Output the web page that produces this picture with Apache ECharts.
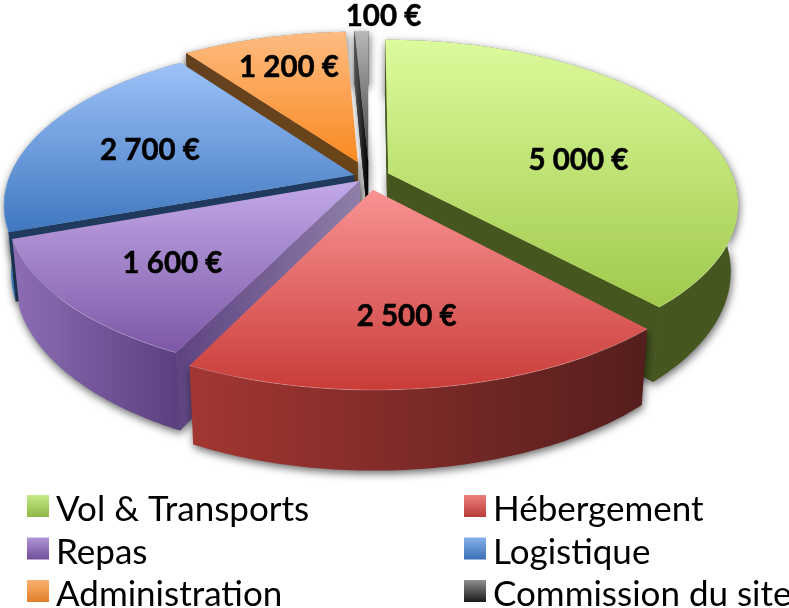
<!DOCTYPE html>
<html><head><meta charset="utf-8">
<style>html,body{margin:0;padding:0;background:#fff}#c{width:789px;height:608px}</style>
<script src="https://cdn.jsdelivr.net/npm/echarts@6/dist/echarts.min.js"></script>
</head><body><div id="c"></div>
<script>
// --- data ---
const categories = ['Vol & Transports','Hébergement','Repas','Logistique','Administration','Commission du site'];
const values = [5000,2500,1600,2700,1200,100];
// --- style / layout ---
const faceColors = [['#dcfb9c','#a0c94c'],['#f99393','#c93c38'],['#c2a9e8','#7d58a6'],['#9dc2f9','#3f77bf'],['#fdbb80','#fa8a22'],['#b8b8b8','#404040']];
const rimColors  = [['#46561f','#46561f'],['#a33632','#541e1d'],['#8d6eb5','#5a3f7e'],['#3f83c8','#1f3a5c'],['#6b4420','#6b4420'],['#111111','#111111']];
const cutColors  = [['#46561f','#46561f'],['#541e1d','#541e1d'],['#5d4380','#8f7ea8'],['#1f3a5c','#1f3a5c'],['#64401f','#6b4518'],['#555555','#000000']];
const legendColors = [['#c6ea86','#8fb548'],['#ee7f7c','#b83c38'],['#b195d8','#6f4f98'],['#86b0ea','#3a70b4'],['#fbb070','#e0802a'],['#909090','#1a1a1a']];
const explode = [0.06,0.08,0.035,0.045,0.1,0.1];
const labelAngle = [81,173,226.5,285.3,341.7,2.7];
const labelRadius = [0.57,0.68,0.68,0.635,0.74,1.146];
const drawOrder = [5,4,0,3,2,1];
const CX=369, CY=177, A=345, B=159, K=0.18, DEPTH=65, DEPTH_X=0.98;
const FF='Lato, Carlito, sans-serif';

const total = values.reduce((a,b)=>a+b,0);
const starts = []; let acc=0; values.forEach(v=>{starts.push(acc/total*2*Math.PI); acc+=v;});
const LG=(c,h)=>new echarts.graphic.LinearGradient(0,0,h?1:0,h?0:1,[{offset:0,color:c[0]},{offset:1,color:c[1]}]);
function pt(i,theta,r,depth){
  const mid=starts[i]+values[i]/total*Math.PI, e=explode[i];
  const U=Math.sin(mid)*e+r*Math.sin(theta), V=-Math.cos(mid)*e-r*Math.cos(theta);
  const s=1/(1-K*V);
  return [CX+A*U*s*(depth?DEPTH_X:1), CY+B*V*s+(depth?DEPTH*s:0)];
}
const fmt=v=>String(v).replace(/\B(?=(\d{3})+$)/g,'\u00a0')+'\u00a0€';
const shadow={shadowBlur:9,shadowColor:'rgba(0,0,0,0.6)',shadowOffsetX:1,shadowOffsetY:3};

function slice(i){
  return function(){
    const t0=starts[i], t1=t0+values[i]/total*2*Math.PI, N=80;
    const top=[],bot=[];
    for(let n=0;n<=N;n++){const t=t0+(t1-t0)*n/N; top.push(pt(i,t,1,false)); bot.push(pt(i,t,1,true));}
    const a0=pt(i,0,0,false), a1=pt(i,0,0,true);
    const rim=top.concat(bot.slice().reverse());
    const mk=(pts,fill,extra)=>({type:'polygon',shape:{points:pts},style:Object.assign({fill:fill},extra||{}),silent:true});
    // only the cut wall that faces the viewer is drawn
    const cuts=[];
    if(top[0][0]<a0[0]-0.5) cuts.push([a0,top[0],bot[0],a1]);
    if(top[N][0]>a0[0]+0.5) cuts.push([a0,top[N],bot[N],a1]);
    const c=labelAngle[i]*Math.PI/180;
    const lp=pt(i,c,labelRadius[i],false);
    const children=[];
    cuts.forEach(q=>children.push(mk(q,LG(cutColors[i],true),shadow)));
    children.push(mk(rim,LG(rimColors[i],true),shadow));
    cuts.forEach(q=>children.push(mk(q,LG(cutColors[i],true))));
    children.push(mk(top.concat([a0]),LG(faceColors[i],false)));
    children.push({type:'polyline',shape:{points:top},style:{fill:null,stroke:'rgba(255,255,255,0.22)',lineWidth:1},silent:true});
    children.push({type:'text',z2:100,style:{x:lp[0],y:lp[1]+1,text:fmt(values[i]),fill:'#000',stroke:'#000',lineWidth:0.5,font:'bold 29.5px '+FF,align:'center',verticalAlign:'middle'},silent:true});
    return {type:'group',children};
  };
}
const series=drawOrder.map(i=>({
  type:'custom',name:categories[i],coordinateSystem:'none',silent:true,animation:false,clip:false,
  z:2+drawOrder.indexOf(i),
  itemStyle:{color:legendColors[i][0]},
  data:[values[i]],renderItem:slice(i)
}));
// swatch sits in the upper part of a taller symbol box, so it rides above the text's middle
const swatch='path://M0,0H22V22H0Z M0,30H0.01V30.01H0Z';
const leg=(idx,left)=>({
  orient:'vertical',left:left,top:490,height:140,padding:0,selectedMode:false,itemWidth:22,itemHeight:30,itemGap:2.5,
  icon:swatch,itemStyle:{borderWidth:0},textStyle:{fontFamily:FF,fontSize:35,color:'#000',lineHeight:40,padding:[0,0,0,2]},
  data:idx.map(i=>({name:categories[i],itemStyle:{borderWidth:0,color:new echarts.graphic.LinearGradient(0,0,0,1,[{offset:0,color:legendColors[i][0]},{offset:0.73,color:legendColors[i][1]},{offset:1,color:legendColors[i][1]}])}}))
});
const chart=echarts.init(document.getElementById('c'),null,{renderer:'canvas'});
chart.setOption({animation:false,backgroundColor:'#fff',legend:[leg([0,2,4],27),leg([1,3,5],464)],series});
</script></body></html>
